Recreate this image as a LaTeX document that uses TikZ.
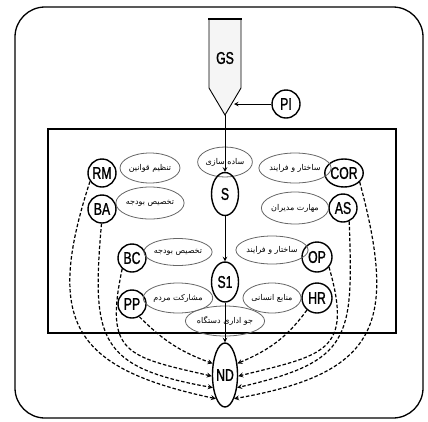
\documentclass[tikz,border=0pt]{standalone}
\usepackage{fontspec}
\usetikzlibrary{shapes}
\TeXXeTstate=1
\newfontfamily\tagfont[FakeStretch=0.72,FakeBold=1.2]{Liberation Sans}
\newfontfamily\farsi[Script=Arabic]{DejaVu Sans}
\newcommand{\fa}[1]{\beginR #1\endR}
\tikzset{tag/.style={ellipse,draw,line width=1.4pt,minimum width=28pt,minimum height=28pt,inner sep=0pt,font=\tagfont\fontsize{17}{17}\selectfont},
  lab/.style={ellipse,draw=black!60,line width=0.8pt,minimum width=53pt,minimum height=30pt,inner sep=0pt,font=\farsi\fontsize{8}{9}\selectfont},
  feed/.style={->,line width=1.2pt,dash pattern=on 3.5pt off 2pt}}

\begin{document}
\begin{tikzpicture}[>=stealth,x=1pt,y=1pt]
        \useasboundingbox (0,0) rectangle (428,-421);
        % frame and system box
        \draw[line width=1.3pt, rounded corners=30pt] (15,-7) rectangle (423,-418);
        \draw[line width=1.6pt] (48,-129) rectangle (396,-333);

        % goal block
        \draw[line width=0.9pt, fill=black!4] (209,-19) -- (209,-88) -- (225,-115) -- (241,-88) -- (241,-19);
        \draw[line width=2pt] (208,-19) -- (242,-19);
        \node[font=\tagfont\fontsize{17}{17}\selectfont] (gs) at (225,-58) {GS};
        \coordinate (gstip) at (225,-115);
        \coordinate (gsedge) at (234,-104);
        \node[tag] (pi) at (286,-104) {PI};

        % main column
        \node[lab] (simp) at (225,-162) {\fa{ساده سازی}};
        \node[tag, minimum width=27pt, minimum height=43pt] (s) at (225,-194) {S};
        \node[lab] (atm) at (225,-321) {\fa{جو اداری دستگاه}};
        \node[tag, minimum width=27pt, minimum height=40pt] (s1) at (225,-282) {S1};
        \node[tag, minimum width=25pt, minimum height=64pt] (nd) at (225,-375) {ND};

        % left side
        \node[tag] (rm) at (102,-173) {RM};
        \node[tag] (ba) at (102,-209) {BA};
        \node[tag] (bc) at (132,-258) {BC};
        \node[tag] (pp) at (132,-304) {PP};
        \node[lab] (rmlab) at (150,-168) {\fa{تنظیم قوانین}};
        \node[lab, minimum height=32pt] (balab) at (150,-203) {\fa{تخصیص بودجه}};
        \node[lab, minimum height=27pt] (bclab) at (178,-252) {\fa{تخصیص بودجه}};
        \node[lab] (pplab) at (178,-298) {\fa{مشارکت مردم}};

        % right side
        \node[tag, minimum width=32pt] (cor) at (344,-173) {COR};
        \node[tag] (as) at (343,-208) {AS};
        \node[tag, minimum width=30pt, minimum height=30pt] (op) at (317,-257) {OP};
        \node[tag, minimum width=30pt, minimum height=30pt] (hr) at (317,-298) {HR};
        \node[lab] (corlab) at (295,-168) {\fa{ساختار و فرایند}};
        \node[lab, minimum height=32pt] (aslab) at (295,-208) {\fa{مهارت مدیران}};
        \node[lab, minimum height=28pt] (oplab) at (272,-250) {\fa{ساختار و فرایند}};
        \node[lab] (hrlab) at (272,-298) {\fa{منابع انسانی}};

        \draw [->, line width=1pt] (pi) -- (gsedge);
        \draw [->, line width=1pt] (gstip) -- (s);
        \draw [->, line width=1pt] (s) -- (s1);
        \draw [->, line width=1pt] (s1) -- (nd);

        \draw [feed] (rm.215) to[out=252,in=168,looseness=1.5] (nd.249);
        \draw [feed] (ba.268) to[out=265,in=170,looseness=1.5] (nd.226);
        \draw [feed] (bc.228) to[out=258,in=167,looseness=1.6] (nd.185);
        \draw [feed] (pp.300) to[out=-45,in=160] (nd.137);
        \draw [feed] (cor.330) to[out=285,in=10,looseness=1.5] (nd.291);
        \draw [feed] (as.295) to[out=272,in=13,looseness=1.5] (nd.314);
        \draw [feed] (op.320) to[out=286,in=14,looseness=1.6] (nd.355);
        \draw [feed] (hr.230) to[out=234,in=23] (nd.43);
    \end{tikzpicture}
\end{document}
